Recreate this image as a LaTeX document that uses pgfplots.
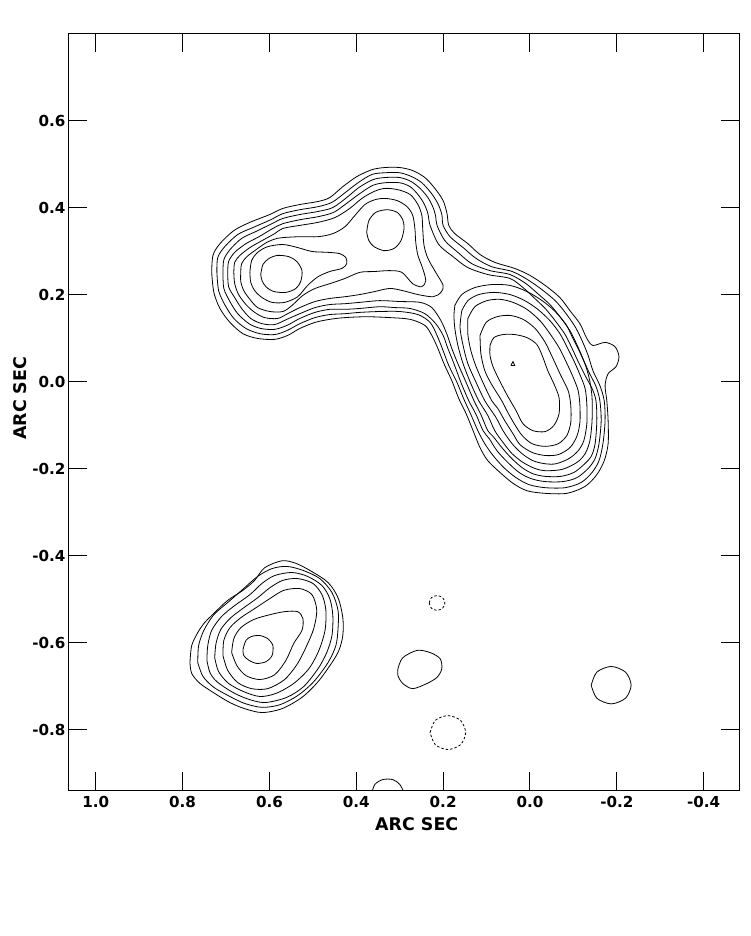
\documentclass[border=0pt]{standalone}
\usepackage{pgfplots}
\pgfplotsset{compat=1.18}
\usepackage{fontspec}
\setmainfont{DejaVu Sans}
\newcommand\tickfont{\fontsize{15.2}{18}\selectfont\bfseries}
\newcommand\labfont{\fontsize{17.5}{20}\selectfont\bfseries}
\pgfplotsset{
  cnt/.style={black, line width=0.8bp, smooth, tension=0.5, mark=none},
  neg/.style={black, line width=0.8bp, smooth, tension=0.5, mark=none, dash pattern=on 2.5bp off 2bp},
}
\begin{document}
\begin{tikzpicture}
\begin{axis}[
  at={(0,0)}, anchor=south west,
  width=670bp, height=756bp, scale only axis,
  x dir=reverse,
  xmin=-0.4814, xmax=1.0616, ymin=-0.939, ymax=0.799,
  axis line style={line width=1bp},
  tick align=inside, major tick length=18bp,
  tick style={black, line width=1bp},
  minor tick num=0,
  xtick={-0.4,-0.2,0,0.2,0.4,0.6,0.8,1.0},
  xticklabels={-0.4,-0.2,0.0,0.2,0.4,0.6,0.8,1.0},
  ytick={-0.8,-0.6,-0.4,-0.2,0,0.2,0.4,0.6},
  yticklabels={-0.8,-0.6,-0.4,-0.2,0.0,0.2,0.4,0.6},
  ticklabel style={font=\tickfont},
  xticklabel style={yshift=-3bp},
  xlabel={ARC SEC}, ylabel={ARC SEC},
  label style={font=\labfont},
  xlabel style={at={(axis description cs:0.519,-0.045)}, anchor=center},
  ylabel style={at={(axis description cs:-0.073,0.518)}, anchor=center},
]
% ---- common contours L1-L4
\addplot[cnt] coordinates {(0.733,0.251)(0.730,0.290)(0.714,0.317)(0.682,0.347)(0.645,0.366)(0.599,0.384)(0.569,0.398)(0.530,0.407)(0.488,0.414)(0.461,0.423)(0.431,0.448)(0.399,0.471)(0.364,0.487)(0.334,0.492)(0.300,0.492)(0.270,0.485)(0.242,0.469)(0.219,0.444)(0.200,0.416)(0.191,0.386)(0.187,0.359)(0.173,0.340)(0.143,0.317)(0.115,0.292)(0.081,0.274)(0.035,0.260)(0.000,0.244)(-0.035,0.221)(-0.069,0.193)(-0.092,0.163)(-0.115,0.133)(-0.131,0.099)(-0.145,0.083)(-0.173,0.090)(-0.196,0.080)(-0.205,0.057)(-0.198,0.034)(-0.180,0.018)(-0.173,-0.009)(-0.177,-0.044)(-0.180,-0.090)(-0.180,-0.143)(-0.171,-0.182)(-0.154,-0.214)(-0.127,-0.241)(-0.085,-0.257)(-0.035,-0.257)(0.007,-0.251)(0.039,-0.234)(0.069,-0.209)(0.097,-0.182)(0.115,-0.152)(0.131,-0.113)(0.147,-0.074)(0.164,-0.039)(0.180,0.002)(0.198,0.041)(0.212,0.076)(0.226,0.106)(0.242,0.129)(0.276,0.143)(0.323,0.147)(0.376,0.149)(0.426,0.147)(0.461,0.143)(0.495,0.136)(0.530,0.122)(0.558,0.106)(0.588,0.097)(0.627,0.099)(0.661,0.110)(0.691,0.136)(0.714,0.168)(0.728,0.205)(0.733,0.251)};
\addplot[cnt] coordinates {(0.721,0.251)(0.719,0.285)(0.703,0.310)(0.673,0.338)(0.638,0.354)(0.597,0.372)(0.569,0.386)(0.530,0.395)(0.488,0.402)(0.456,0.412)(0.426,0.434)(0.396,0.457)(0.364,0.476)(0.334,0.480)(0.300,0.480)(0.272,0.471)(0.249,0.457)(0.228,0.434)(0.212,0.409)(0.203,0.384)(0.200,0.359)(0.184,0.333)(0.154,0.308)(0.124,0.283)(0.088,0.264)(0.041,0.253)(0.005,0.234)(-0.028,0.211)(-0.058,0.186)(-0.081,0.159)(-0.104,0.126)(-0.120,0.094)(-0.134,0.060)(-0.145,0.025)(-0.161,-0.009)(-0.171,-0.044)(-0.173,-0.090)(-0.168,-0.143)(-0.159,-0.182)(-0.143,-0.209)(-0.118,-0.232)(-0.081,-0.244)(-0.035,-0.244)(0.002,-0.237)(0.032,-0.221)(0.060,-0.198)(0.085,-0.170)(0.104,-0.143)(0.120,-0.113)(0.136,-0.076)(0.152,-0.041)(0.168,-0.002)(0.187,0.037)(0.200,0.071)(0.214,0.106)(0.230,0.136)(0.258,0.154)(0.300,0.161)(0.346,0.161)(0.392,0.159)(0.426,0.156)(0.461,0.154)(0.495,0.147)(0.530,0.133)(0.560,0.117)(0.588,0.108)(0.622,0.110)(0.654,0.122)(0.682,0.145)(0.703,0.177)(0.717,0.209)(0.721,0.251)};
\addplot[cnt] coordinates {(0.707,0.251)(0.705,0.280)(0.691,0.303)(0.664,0.329)(0.631,0.345)(0.594,0.363)(0.569,0.375)(0.530,0.384)(0.488,0.391)(0.454,0.400)(0.422,0.423)(0.394,0.446)(0.362,0.464)(0.334,0.469)(0.300,0.469)(0.274,0.460)(0.253,0.444)(0.235,0.423)(0.223,0.400)(0.217,0.379)(0.214,0.359)(0.196,0.324)(0.166,0.297)(0.134,0.271)(0.092,0.255)(0.046,0.246)(0.009,0.225)(-0.018,0.202)(-0.046,0.177)(-0.069,0.149)(-0.092,0.117)(-0.108,0.085)(-0.122,0.053)(-0.136,0.021)(-0.152,-0.011)(-0.161,-0.044)(-0.164,-0.090)(-0.159,-0.143)(-0.150,-0.177)(-0.134,-0.200)(-0.108,-0.221)(-0.076,-0.230)(-0.035,-0.230)(-0.002,-0.223)(0.025,-0.209)(0.051,-0.186)(0.076,-0.159)(0.094,-0.131)(0.108,-0.113)(0.124,-0.076)(0.141,-0.044)(0.159,-0.002)(0.175,0.041)(0.189,0.076)(0.200,0.106)(0.217,0.133)(0.242,0.156)(0.276,0.168)(0.311,0.170)(0.346,0.172)(0.392,0.168)(0.426,0.166)(0.461,0.166)(0.495,0.159)(0.530,0.145)(0.560,0.129)(0.588,0.120)(0.620,0.122)(0.647,0.133)(0.673,0.156)(0.691,0.184)(0.705,0.214)(0.707,0.251)};
\addplot[cnt] coordinates {(0.696,0.251)(0.694,0.276)(0.680,0.297)(0.654,0.317)(0.624,0.333)(0.592,0.352)(0.569,0.363)(0.530,0.372)(0.488,0.379)(0.452,0.389)(0.419,0.412)(0.392,0.432)(0.362,0.451)(0.334,0.457)(0.300,0.457)(0.276,0.448)(0.258,0.430)(0.244,0.409)(0.235,0.386)(0.230,0.359)(0.210,0.315)(0.177,0.287)(0.143,0.262)(0.097,0.246)(0.046,0.237)(0.016,0.216)(-0.009,0.193)(-0.035,0.168)(-0.058,0.140)(-0.081,0.108)(-0.097,0.076)(-0.111,0.046)(-0.127,0.014)(-0.143,-0.016)(-0.152,-0.044)(-0.154,-0.090)(-0.150,-0.143)(-0.141,-0.172)(-0.124,-0.191)(-0.101,-0.209)(-0.071,-0.218)(-0.035,-0.218)(-0.007,-0.212)(0.018,-0.198)(0.044,-0.175)(0.067,-0.149)(0.085,-0.126)(0.097,-0.113)(0.113,-0.076)(0.129,-0.044)(0.147,-0.002)(0.166,0.041)(0.180,0.076)(0.191,0.108)(0.205,0.140)(0.226,0.170)(0.253,0.182)(0.300,0.184)(0.346,0.186)(0.392,0.182)(0.426,0.179)(0.461,0.177)(0.495,0.170)(0.530,0.156)(0.560,0.143)(0.588,0.131)(0.617,0.133)(0.643,0.145)(0.664,0.168)(0.680,0.193)(0.694,0.218)(0.696,0.251)};
% ---- left + middle lobes
\addplot[cnt] coordinates {(0.682,0.251)(0.680,0.274)(0.668,0.290)(0.645,0.308)(0.617,0.324)(0.588,0.340)(0.569,0.352)(0.530,0.359)(0.488,0.366)(0.449,0.377)(0.415,0.398)(0.387,0.421)(0.359,0.437)(0.334,0.444)(0.304,0.441)(0.276,0.430)(0.258,0.407)(0.249,0.382)(0.247,0.352)(0.244,0.313)(0.235,0.283)(0.217,0.251)(0.200,0.221)(0.205,0.205)(0.223,0.195)(0.258,0.200)(0.293,0.209)(0.323,0.214)(0.357,0.207)(0.392,0.200)(0.426,0.195)(0.461,0.191)(0.495,0.184)(0.530,0.170)(0.558,0.156)(0.581,0.145)(0.611,0.147)(0.634,0.159)(0.654,0.177)(0.671,0.200)(0.680,0.225)(0.682,0.251)};
\addplot[cnt] coordinates {(0.666,0.251)(0.664,0.271)(0.652,0.287)(0.631,0.303)(0.606,0.320)(0.583,0.329)(0.569,0.331)(0.530,0.333)(0.488,0.333)(0.454,0.340)(0.426,0.356)(0.403,0.382)(0.380,0.407)(0.357,0.418)(0.334,0.421)(0.306,0.416)(0.283,0.402)(0.270,0.382)(0.265,0.352)(0.263,0.320)(0.258,0.290)(0.247,0.260)(0.240,0.232)(0.249,0.218)(0.270,0.225)(0.295,0.251)(0.323,0.255)(0.357,0.253)(0.392,0.251)(0.426,0.237)(0.461,0.225)(0.495,0.214)(0.523,0.198)(0.548,0.175)(0.569,0.161)(0.599,0.161)(0.627,0.170)(0.645,0.189)(0.659,0.209)(0.666,0.230)(0.666,0.251)};
\addplot[cnt] coordinates {(0.645,0.251)(0.641,0.278)(0.627,0.297)(0.604,0.310)(0.569,0.315)(0.535,0.308)(0.502,0.299)(0.465,0.297)(0.438,0.294)(0.424,0.285)(0.422,0.271)(0.433,0.260)(0.461,0.253)(0.488,0.241)(0.512,0.221)(0.535,0.195)(0.565,0.182)(0.594,0.182)(0.617,0.193)(0.634,0.209)(0.643,0.228)(0.645,0.251)};
\addplot[cnt] coordinates {(0.620,0.246)(0.615,0.269)(0.601,0.283)(0.581,0.290)(0.555,0.287)(0.537,0.276)(0.525,0.255)(0.528,0.230)(0.539,0.214)(0.562,0.205)(0.590,0.207)(0.608,0.218)(0.617,0.232)(0.620,0.246)};
\addplot[cnt] coordinates {(0.376,0.343)(0.371,0.370)(0.355,0.389)(0.329,0.395)(0.306,0.389)(0.293,0.372)(0.290,0.352)(0.297,0.324)(0.313,0.306)(0.336,0.301)(0.359,0.310)(0.371,0.324)(0.376,0.343)};
% ---- right lobe
\addplot[cnt] coordinates {(0.173,0.175)(0.157,0.200)(0.127,0.216)(0.088,0.223)(0.046,0.221)(0.007,0.207)(-0.028,0.186)(-0.058,0.161)(-0.083,0.131)(-0.099,0.099)(-0.115,0.067)(-0.129,0.034)(-0.138,0.000)(-0.143,-0.037)(-0.143,-0.090)(-0.138,-0.136)(-0.127,-0.166)(-0.108,-0.186)(-0.074,-0.202)(-0.035,-0.205)(-0.012,-0.200)(0.016,-0.186)(0.041,-0.166)(0.062,-0.140)(0.081,-0.113)(0.097,-0.078)(0.118,-0.044)(0.136,-0.005)(0.154,0.041)(0.166,0.083)(0.173,0.122)(0.175,0.152)(0.173,0.175)};
\addplot[cnt] coordinates {(0.157,0.163)(0.143,0.186)(0.118,0.200)(0.083,0.205)(0.046,0.200)(0.012,0.186)(-0.018,0.166)(-0.046,0.140)(-0.069,0.110)(-0.085,0.080)(-0.101,0.048)(-0.115,0.016)(-0.127,-0.016)(-0.131,-0.053)(-0.131,-0.097)(-0.124,-0.136)(-0.111,-0.159)(-0.090,-0.177)(-0.060,-0.189)(-0.035,-0.189)(-0.007,-0.182)(0.018,-0.166)(0.041,-0.143)(0.062,-0.113)(0.078,-0.083)(0.104,-0.044)(0.124,-0.002)(0.143,0.041)(0.154,0.083)(0.161,0.124)(0.157,0.163)};
\addplot[cnt] coordinates {(0.143,0.145)(0.127,0.172)(0.099,0.186)(0.069,0.189)(0.039,0.182)(0.007,0.166)(-0.023,0.140)(-0.046,0.110)(-0.067,0.078)(-0.083,0.046)(-0.099,0.011)(-0.111,-0.021)(-0.115,-0.055)(-0.115,-0.094)(-0.108,-0.126)(-0.092,-0.152)(-0.065,-0.168)(-0.035,-0.170)(-0.005,-0.163)(0.023,-0.145)(0.039,-0.120)(0.058,-0.090)(0.074,-0.062)(0.088,-0.044)(0.106,-0.007)(0.124,0.034)(0.136,0.071)(0.143,0.108)(0.143,0.145)};
\addplot[cnt] coordinates {(0.115,0.106)(0.101,0.136)(0.076,0.149)(0.046,0.152)(0.016,0.143)(-0.012,0.122)(-0.035,0.090)(-0.053,0.053)(-0.071,0.014)(-0.088,-0.021)(-0.094,-0.055)(-0.094,-0.094)(-0.085,-0.124)(-0.065,-0.143)(-0.035,-0.149)(-0.005,-0.143)(0.018,-0.124)(0.035,-0.099)(0.051,-0.071)(0.065,-0.044)(0.088,-0.007)(0.104,0.025)(0.113,0.064)(0.115,0.106)};
\addplot[cnt] coordinates {(0.092,0.083)(0.083,0.101)(0.062,0.108)(0.035,0.108)(0.007,0.101)(-0.016,0.085)(-0.030,0.055)(-0.041,0.025)(-0.055,-0.005)(-0.067,-0.037)(-0.067,-0.074)(-0.055,-0.101)(-0.035,-0.115)(-0.007,-0.113)(0.016,-0.097)(0.032,-0.067)(0.051,-0.034)(0.069,0.000)(0.085,0.034)(0.092,0.060)(0.092,0.083)};
\addplot[black, line width=0.8bp, mark=none] coordinates {(0.044,0.037)(0.039,0.046)(0.035,0.037)(0.044,0.037)};
% ---- lower left source
\addplot[cnt] coordinates {(0.783,-0.646)(0.779,-0.607)(0.765,-0.577)(0.749,-0.554)(0.726,-0.531)(0.696,-0.503)(0.661,-0.480)(0.634,-0.457)(0.611,-0.428)(0.571,-0.412)(0.539,-0.418)(0.502,-0.437)(0.465,-0.462)(0.442,-0.497)(0.431,-0.543)(0.431,-0.584)(0.440,-0.618)(0.456,-0.646)(0.488,-0.690)(0.525,-0.726)(0.571,-0.752)(0.617,-0.761)(0.657,-0.752)(0.691,-0.738)(0.726,-0.717)(0.760,-0.694)(0.779,-0.671)(0.783,-0.646)};
\addplot[cnt] coordinates {(0.765,-0.646)(0.763,-0.607)(0.751,-0.572)(0.728,-0.536)(0.696,-0.508)(0.664,-0.480)(0.627,-0.448)(0.594,-0.430)(0.560,-0.425)(0.523,-0.434)(0.484,-0.453)(0.456,-0.485)(0.442,-0.526)(0.442,-0.568)(0.447,-0.607)(0.465,-0.646)(0.498,-0.690)(0.535,-0.722)(0.576,-0.743)(0.617,-0.749)(0.657,-0.740)(0.691,-0.724)(0.728,-0.703)(0.753,-0.678)(0.765,-0.646)};
\addplot[cnt] coordinates {(0.744,-0.641)(0.742,-0.607)(0.733,-0.572)(0.710,-0.540)(0.680,-0.515)(0.645,-0.490)(0.617,-0.464)(0.588,-0.446)(0.548,-0.439)(0.512,-0.448)(0.479,-0.469)(0.461,-0.499)(0.454,-0.538)(0.456,-0.584)(0.468,-0.623)(0.488,-0.660)(0.521,-0.701)(0.560,-0.726)(0.611,-0.738)(0.652,-0.729)(0.687,-0.713)(0.721,-0.690)(0.737,-0.669)(0.744,-0.641)};
\addplot[cnt] coordinates {(0.726,-0.635)(0.723,-0.602)(0.712,-0.570)(0.689,-0.543)(0.659,-0.520)(0.627,-0.497)(0.599,-0.474)(0.569,-0.457)(0.535,-0.453)(0.500,-0.464)(0.479,-0.490)(0.470,-0.526)(0.472,-0.572)(0.486,-0.618)(0.509,-0.660)(0.544,-0.694)(0.585,-0.717)(0.622,-0.724)(0.659,-0.713)(0.694,-0.694)(0.717,-0.667)(0.726,-0.635)};
\addplot[cnt] coordinates {(0.707,-0.630)(0.705,-0.595)(0.691,-0.566)(0.666,-0.543)(0.634,-0.522)(0.599,-0.499)(0.567,-0.480)(0.530,-0.476)(0.502,-0.490)(0.491,-0.526)(0.498,-0.568)(0.514,-0.607)(0.535,-0.648)(0.565,-0.685)(0.604,-0.706)(0.641,-0.706)(0.673,-0.692)(0.696,-0.664)(0.707,-0.630)};
\addplot[cnt] coordinates {(0.687,-0.623)(0.682,-0.591)(0.666,-0.566)(0.636,-0.547)(0.599,-0.536)(0.565,-0.529)(0.535,-0.529)(0.523,-0.545)(0.525,-0.572)(0.544,-0.602)(0.562,-0.641)(0.588,-0.674)(0.622,-0.685)(0.654,-0.676)(0.675,-0.653)(0.687,-0.623)};
\addplot[cnt] coordinates {(0.661,-0.616)(0.654,-0.595)(0.641,-0.586)(0.622,-0.584)(0.604,-0.591)(0.592,-0.607)(0.594,-0.630)(0.608,-0.644)(0.629,-0.648)(0.647,-0.641)(0.659,-0.630)(0.661,-0.616)};
% ---- small features
\addplot[neg] coordinates {(0.232,-0.509)(0.227,-0.497)(0.214,-0.492)(0.201,-0.497)(0.196,-0.509)(0.201,-0.521)(0.214,-0.526)(0.227,-0.521)(0.232,-0.509)};
\addplot[cnt] coordinates {(0.304,-0.660)(0.293,-0.635)(0.260,-0.618)(0.230,-0.623)(0.207,-0.637)(0.203,-0.660)(0.214,-0.680)(0.237,-0.694)(0.270,-0.706)(0.293,-0.694)(0.304,-0.676)(0.304,-0.660)};
\addplot[neg] coordinates {(0.230,-0.807)(0.218,-0.779)(0.189,-0.768)(0.160,-0.779)(0.148,-0.807)(0.160,-0.835)(0.189,-0.846)(0.218,-0.835)(0.230,-0.807)};
\addplot[cnt] coordinates {(-0.141,-0.698)(-0.154,-0.668)(-0.187,-0.655)(-0.220,-0.668)(-0.233,-0.698)(-0.220,-0.728)(-0.187,-0.741)(-0.154,-0.728)(-0.141,-0.698)};
\addplot[cnt] coordinates {(0.364,-0.945)(0.357,-0.926)(0.339,-0.915)(0.316,-0.915)(0.300,-0.926)(0.290,-0.945)};
\end{axis}
\pgfresetboundingbox
\useasboundingbox (-69bp,-146bp) rectangle (682bp,790bp);
\end{tikzpicture}
\end{document}
